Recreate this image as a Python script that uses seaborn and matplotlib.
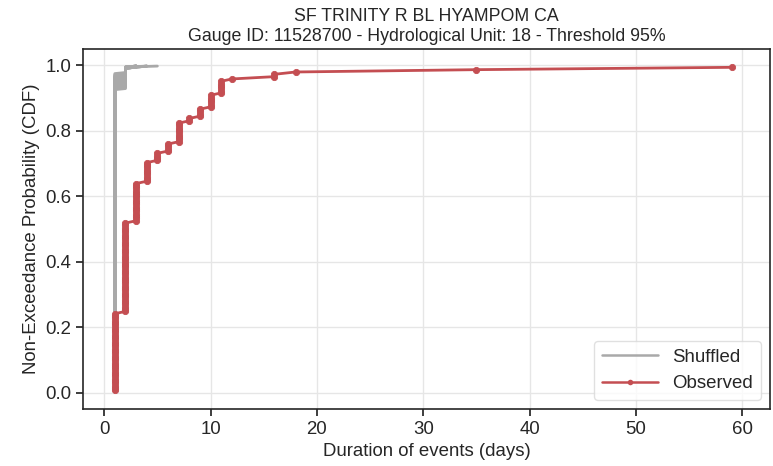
import numpy as np
import pandas as pd
import matplotlib
matplotlib.use("Agg")
import matplotlib.pyplot as plt
from matplotlib.lines import Line2D
import seaborn as sns

# Observed event durations (days) and how many events had each duration
obs_durations = [1, 2, 3, 4, 5, 6, 7, 8, 9, 10, 11, 12, 16, 18, 35, 59]
obs_counts = [34, 39, 17, 9, 4, 4, 9, 2, 4, 6, 6, 1, 2, 1, 1, 1]

# Shuffled realizations: event counts for durations 1..5 days
shuf_durations = [1, 2, 3, 4, 5]
shuf_counts = [
    [290, 14, 1, 0, 0],
    [295, 8, 1, 1, 0],
    [284, 19, 2, 0, 0],
    [297, 7, 0, 0, 1],
    [288, 15, 1, 0, 0],
    [292, 11, 2, 0, 0],
    [298, 6, 1, 0, 0],
    [286, 17, 1, 1, 0],
    [293, 10, 1, 0, 0],
    [283, 20, 2, 0, 0],
    [296, 8, 0, 1, 0],
    [289, 13, 2, 0, 0],
    [287, 16, 1, 0, 0],
    [294, 9, 1, 0, 0],
    [285, 18, 1, 1, 0],
    [291, 12, 1, 0, 0],
]

title = "SF TRINITY R BL HYAMPOM CA\nGauge ID: 11528700 - Hydrological Unit: 18 - Threshold 95%"


def ecdf_frame(durations, counts):
    x = np.repeat(durations, counts)
    n = len(x)
    p = np.arange(1, n + 1) / (n + 1)
    return pd.DataFrame({"duration": x, "cdf": p})


obs_df = ecdf_frame(obs_durations, obs_counts)
shuf_frames = []
for k, c in enumerate(shuf_counts):
    d = ecdf_frame(shuf_durations, c)
    d["run"] = k
    shuf_frames.append(d)
shuf_df = pd.concat(shuf_frames, ignore_index=True)

sns.set_theme(style="ticks")
plt.rcParams["font.family"] = ["Liberation Sans", "DejaVu Sans"]
text_col = "#262626"
red = "#c44e52"
gray = "#a9a9a9"
fs = 13.4

fig, ax = plt.subplots(figsize=(7.73, 4.66), dpi=100)
fig.subplots_adjust(left=0.1077, right=0.996, top=0.8948, bottom=0.1223)

ax.grid(True, color="#e6e6e6", linewidth=1.0)
ax.set_axisbelow(True)

sns.lineplot(data=shuf_df, x="duration", y="cdf", units="run", estimator=None,
             sort=False, color=gray, linewidth=2.0, ax=ax)
sns.lineplot(data=obs_df, x="duration", y="cdf", estimator=None, sort=False,
             color=red, linewidth=2.0, marker="o", markersize=4.5,
             markeredgewidth=0.6, markeredgecolor=red, ax=ax)

handles = [
    Line2D([], [], color=gray, linewidth=1.8),
    Line2D([], [], color=red, linewidth=1.8, marker="o", markersize=4,
           markeredgewidth=0),
]
leg = ax.legend(handles, ["Shuffled", "Observed"], loc="lower right",
                fontsize=fs, frameon=True, handlelength=3.0,
                borderaxespad=0.5)
leg.get_frame().set_edgecolor("#d9d9d9")
for t in leg.get_texts():
    t.set_color(text_col)

ax.set_xlim(-1.97, 62.6)
ax.set_ylim(-0.0497, 1.0488)
ax.set_title(title, fontsize=12.8, color=text_col, pad=6)
ax.set_xlabel("Duration of events (days)", fontsize=fs, color=text_col)
ax.set_ylabel("Non-Exceedance Probability (CDF)", fontsize=fs, color=text_col)
ax.set_xticks([0, 10, 20, 30, 40, 50, 60])
ax.set_yticks([0.0, 0.2, 0.4, 0.6, 0.8, 1.0])
ax.tick_params(labelsize=fs, colors=text_col, length=5)
for s in ax.spines.values():
    s.set_visible(True)
    s.set_color(text_col)
    s.set_linewidth(1.2)

fig.savefig("out.png", dpi=100)
